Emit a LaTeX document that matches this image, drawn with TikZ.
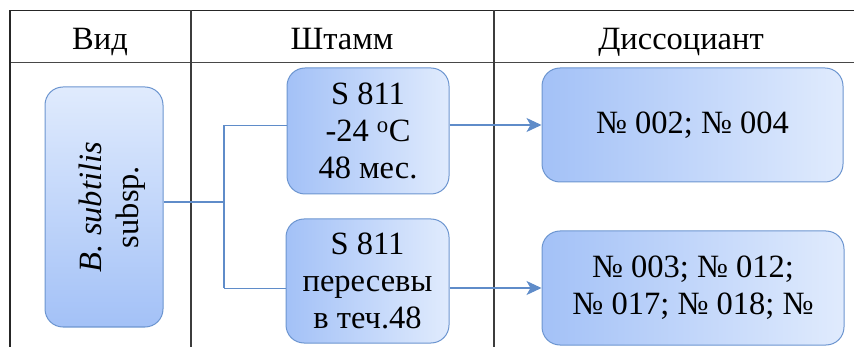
\documentclass[tikz,border=0pt]{standalone}
\usepackage{fontspec}
\setmainfont{Liberation Serif}
\usetikzlibrary{arrows.meta}
\definecolor{bdark}{HTML}{A3C1F7}
\definecolor{blight}{HTML}{E0EBFD}
\definecolor{bborder}{HTML}{6C95D0}
\definecolor{conn}{HTML}{5F8CC9}
\definecolor{rule}{HTML}{262626}
\tikzset{
  box/.style={draw=bborder, line width=1pt, rounded corners=18pt, align=center,
    font=\fontsize{32.5}{36.8}\selectfont, inner sep=0pt},
  hbox/.style={box, left color=bdark, right color=blight},
  vbox/.style={box, top color=blight, bottom color=bdark},
  link/.style={draw=conn, line width=1.1pt},
  arr/.style={link, -{Stealth[length=15pt,width=14pt,inset=4pt]}},
  tline/.style={draw=rule, line width=1.3pt},
  vline/.style={draw=rule!90, line width=2pt},
  head/.style={font=\fontsize{32.5}{36.8}\selectfont, anchor=base, inner sep=0pt},
}
\begin{document}
\begin{tikzpicture}[x=1pt,y=-1pt]
\useasboundingbox (0,0) rectangle (854,347);
% table
\coordinate (tl) at (10,10.5);
\coordinate (tr) at (854,10.5);
\coordinate (hl) at (10,62.5);
\coordinate (hr) at (854,62.5);
\coordinate (bl) at (10,347);
\coordinate (c1t) at (191,10.5);
\coordinate (c1b) at (191,347);
\coordinate (c2t) at (494,10.5);
\coordinate (c2b) at (494,347);
\draw[tline] (tl) -- (tr);
\draw[tline, line width=1.8pt, draw=rule!85] (hl) -- (hr);
\draw[tline] (tl) -- (bl);
\draw[vline] (c1t) -- (c1b);
\draw[vline] (c2t) -- (c2b);
\node[head] (h1) at (100,50) {Вид};
\node[head] (h2) at (342,50) {Штамм};
\node[head] (h3) at (681,50) {Диссоциант};
% boxes
\node[vbox, minimum width=118pt, minimum height=240pt] (sp) at (104,207) {};
\node[font=\fontsize{32.5}{36.8}\selectfont, rotate=90, align=center, inner sep=0pt] (sptxt) at (112,207) {\textit{B. subtilis}\\subsp.};
\node[hbox, minimum width=162pt, minimum height=126pt] (s1) at (368,131) {S 811\\-24 \textsuperscript{o}C\\48 мес.};
\node[hbox, minimum width=163pt, minimum height=124pt] (s2) at (367.5,281) {S 811\\пересевы\\в теч.48};
\node[hbox, minimum width=301pt, minimum height=114pt] (d1) at (692.5,125) {№ 002; № 004};
\node[hbox, minimum width=302pt, minimum height=114pt] (d2) at (693,288) {№ 003; № 012;\\№ 017; № 018; №};
% connectors
\coordinate (j) at (224,202);
\coordinate (t1) at (224,125.5);
\coordinate (t2) at (224,288.5);
\draw[link] (sp.east |- j) -- (j);
\draw[link] (t1) -- (t2);
\draw[link] (t1) -- (s1.west |- t1);
\draw[link] (t2) -- (s2.west |- t2);
\draw[arr] (s1.east |- d1.west) -- (d1.west);
\draw[arr] (s2.east |- d2.west) -- (d2.west);
\end{tikzpicture}
\end{document}
